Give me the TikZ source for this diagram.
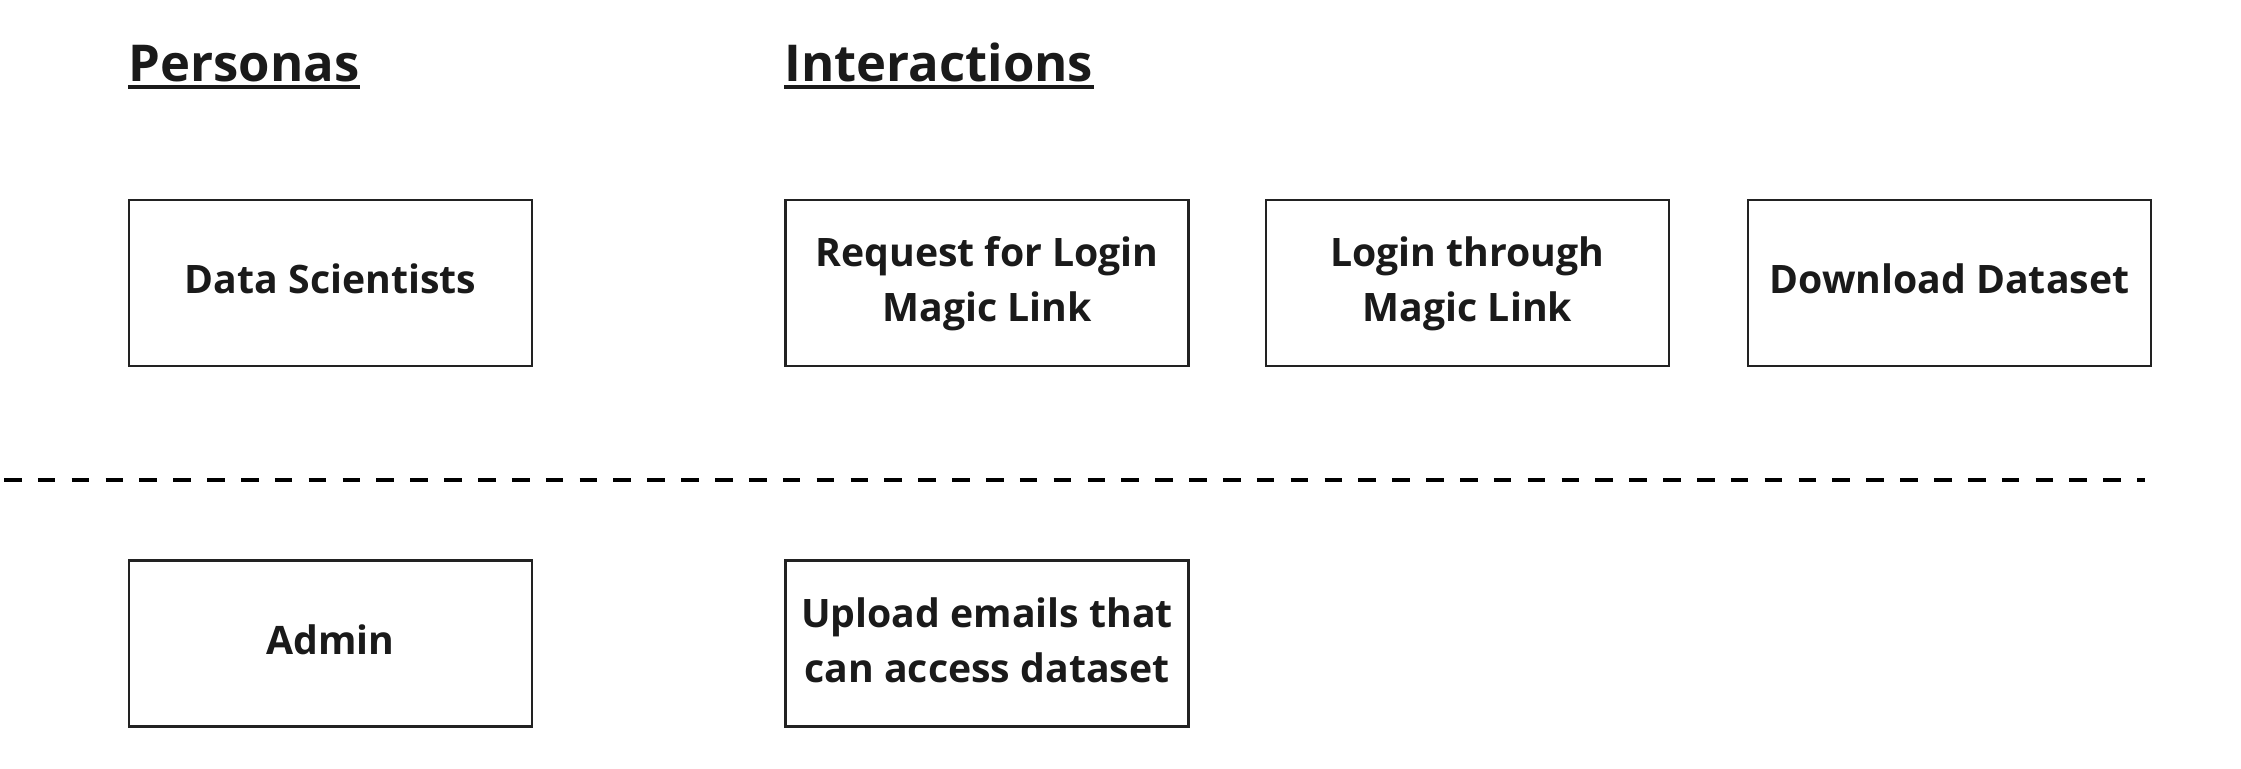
\documentclass[tikz,border=0pt]{standalone}
\usepackage{fontspec}
\setmainfont{Open Sans}
\usepackage{tikz}
\definecolor{edgegray}{HTML}{222222}
\definecolor{inkblack}{HTML}{1A1A1A}
\newcommand{\boxstrut}{\rule[-6pt]{0pt}{23pt}}

\begin{document}
\begin{tikzpicture}[x=0.5pt, y=-0.5pt,
    box/.style={rectangle, draw=edgegray, line width=1.35pt, minimum width=201.5pt, minimum height=83pt,
        inner sep=0pt, align=center, text=inkblack, font=\fontsize{19.6}{27.5}\selectfont\bfseries},
    title/.style={inner sep=0pt, anchor=base west, text=inkblack, font=\fontsize{25.4}{30}\selectfont\bfseries},
    underline/.style={draw=inkblack, line width=2pt},
    separator/.style={draw=black, line width=2.2pt, dash pattern=on 8.8pt off 8.13pt}]

\useasboundingbox (0,0) rectangle (2241,769);

\begin{scope}[every node/.style={title}]
    \node (personas) at (128,82) {Personas};
    \node (interactions) at (784,82) {Interactions};
\end{scope}

\begin{scope}[underline]
    \draw ([yshift=-2pt]personas.south west) -- ([yshift=-2pt]personas.south east);
    \draw ([yshift=-2pt]interactions.south west) -- ([yshift=-2pt]interactions.south east);
\end{scope}

\begin{scope}[every node/.style={box}]
    \node (ds) at (330.5,283) {\boxstrut Data Scientists};
    \node (req) at (987,283) {\boxstrut Request for Login\\\boxstrut Magic Link};
    \node (login) at (1467.5,283) {\boxstrut Login through\\\boxstrut Magic Link};
    \node (dl) at (1949.5,283) {\boxstrut Download Dataset};
    \node (admin) at (330.5,643.5) {\boxstrut Admin};
    \node (upload) at (987,643.5) {\boxstrut Upload emails that\\\boxstrut can access dataset};
\end{scope}

% persona separator
\coordinate (sepL) at (4,480);
\coordinate (sepR) at (2145,480);
\draw[separator] (sepL) -- (sepR);

\end{tikzpicture}
\end{document}
